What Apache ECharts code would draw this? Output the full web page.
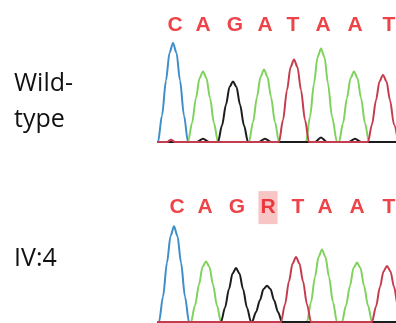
<!DOCTYPE html>
<html><head><meta charset="utf-8">
<script src="https://cdn.jsdelivr.net/npm/echarts@6/dist/echarts.min.js"></script>
<style>html,body{margin:0;padding:0;background:#fff}#c{width:396px;height:323px}</style>
</head><body><div id="c"></div>
<script>
// Base calls (position along trace, letter)
const wtBases = [[18,'C'],[46,'A'],[78,'G'],[108,'A'],[136,'T'],[166,'A'],[198,'A'],[232,'T']];
const mutBases = [[20,'C'],[48,'A'],[80,'G'],[111,'R'],[141,'T'],[168,'A'],[200,'A'],[232,'T']];
const hetBase = 'R';

// Wild-type traces [position, signal]
const wtBlue = [[0,0],[1,0],[5,24],[9,56],[12.5,81],[16,90],[19.5,81],[23,56],[27,24],[31,0],[240,0]];
const wtGreen = [[0,0],[31,0],[35,17],[39,40],[42.5,58],[46,64],[49.5,58],[53,40],[57,17],[61,0],
  [92,0],[96,18],[100,41],[103.5,59],[107,66],[110.5,59],[114,41],[118,18],[122,0],
  [149,0],[153,23],[157,53],[160.5,77],[164,85],[167.5,77],[171,53],[175,23],[180,0],
  [182,0],[186,17],[190,40],[193.5,58],[197,64],[200.5,58],[204,40],[208,17],[212,0],[240,0]];
const wtBlack = [[0,0],[40,0],[46,3],[52,0],[61,0],[65,15],[69,34],[72.5,50],[76,55],[79.5,50],[83,34],[87,15],[91,0],
  [102,0],[108,3],[114,0],[158,0],[164,4],[170,0],[192,0],[198,3],[204,0],[240,0]];
const wtRed = [[0,0],[10,0],[14,2],[18,0],[122,0],[126,20],[130,47],[133.5,68],[137,75],[140.5,68],[144,47],[148,20],[152,0],
  [211,0],[215,16],[219,38],[222.5,55],[226,61],[229.5,55],[233,38],[237,16],[241,0]];

// IV:4 traces
const mutBlue = [[0,0],[2,0],[6,23],[10,54],[13.5,78],[17,87],[20.5,78],[24,54],[28,23],[32,0],[240,0]];
const mutGreen = [[0,0],[34,0],[38,15],[42,34],[45.5,50],[49,55],[52.5,50],[56,34],[60,15],[64,0],
  [150,0],[154,18],[158,41],[161.5,59],[165,66],[168.5,59],[172,41],[176,18],[180,0],
  [185,0],[189,15],[193,33],[196.5,49],[200,54],[203.5,49],[207,33],[211,15],[215,0],[240,0]];
const mutBlack = [[0,0],[64,0],[68,13],[72,30],[75.5,44],[79,49],[82.5,44],[86,30],[90,13],[94,0],
  [95,0],[99,9],[103,20],[106.5,30],[110,33],[113.5,30],[117,20],[121,9],[125,0],[240,0]];
const mutRed = [[0,0],[124,0],[128,16],[132,37],[135.5,53],[139,59],[142.5,53],[146,37],[150,16],[154,0],
  [215,0],[219,14],[223,32],[226.5,46],[230,51],[233.5,46],[237,32],[241,14],[245,0]];

const COL = {blue:'#3d8ec9', green:'#7fd25c', black:'#1c1c1c', red:'#c43c4e'};
const chart = echarts.init(document.getElementById('c'), null, {renderer:'canvas'});

function trace(data, color, idx){
  return {type:'line', data, xAxisIndex:idx, yAxisIndex:idx, smooth:0.3, smoothMonotone:'x',
    symbol:'none', lineStyle:{color, width:2}, silent:true, animation:false, z:3};
}
function letters(bases, idx, yv){
  return {type:'scatter', xAxisIndex:idx, yAxisIndex:idx, symbolSize:0, animation:false, silent:true,
    data: bases.map(b=>({value:[b[0], yv], name:b[1],
      label: b[1]===hetBase ? {backgroundColor:'#f5b7b5', padding:[7,2,5,2]} : {}})),
    label:{show:true, position:'inside', formatter:p=>p.name, color:'#e8141c',
      fontFamily:'Liberation Sans', fontWeight:'bold', fontSize:21}};
}
const ax = (idx)=>({type:'value', gridIndex:idx, min:0, max:239, show:false});
const ay = (idx)=>({type:'value', gridIndex:idx, min:0, max:120, show:false});

chart.setOption({
  animation:false,
  grid:[{left:157, width:239, top:10, height:132}, {left:157, width:239, top:190, height:132}],
  xAxis:[ax(0), ax(1)],
  yAxis:[ay(0), ay(1)],
  graphic:[
    {type:'text', left:14, top:66, style:{text:'Wild-\ntype', fontFamily:'Open Sans', fontSize:25, lineHeight:36, fill:'#111'}},
    {type:'text', left:14, top:246, style:{text:'IV:4', fontFamily:'Open Sans', fontSize:25, fill:'#111'}}
  ],
  series:[
    trace(wtBlue, COL.blue, 0), trace(wtGreen, COL.green, 0), trace(wtBlack, COL.black, 0), trace(wtRed, COL.red, 0),
    trace(mutBlue, COL.blue, 1), trace(mutGreen, COL.green, 1), trace(mutBlack, COL.black, 1), trace(mutRed, COL.red, 1),
    letters(wtBases, 0, 106), letters(mutBases, 1, 104)
  ]
});
</script></body></html>
